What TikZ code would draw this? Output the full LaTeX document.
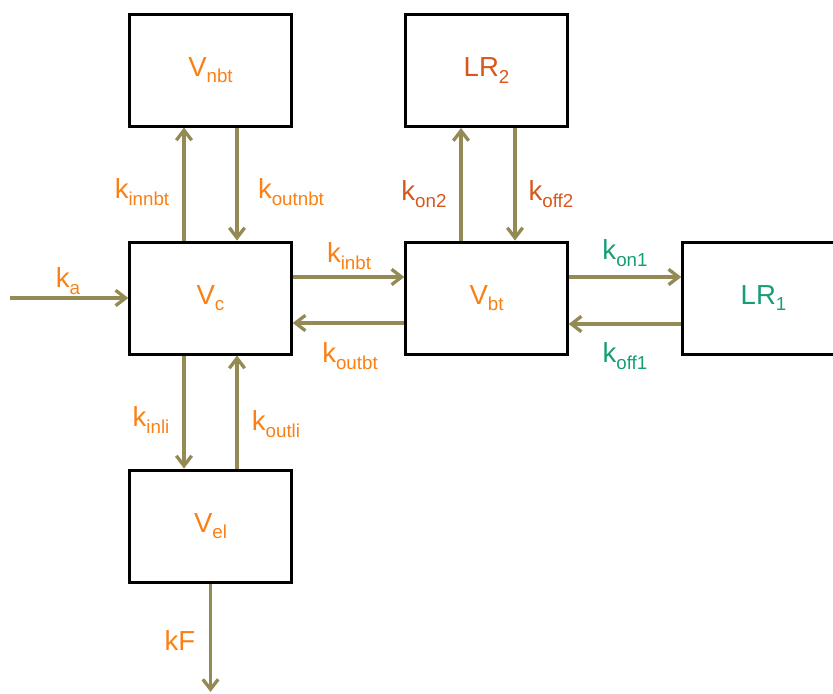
\documentclass[tikz,border=0pt]{standalone}
\usepackage{fontspec}
\setmainfont{Liberation Sans}
\usepackage{tikz}
\usetikzlibrary{arrows.meta}
\usetikzlibrary{calc}
\usetikzlibrary{positioning}

\definecolor{pkorange}{RGB}{250,128,20}
\definecolor{pkred}{RGB}{214,88,28}
\definecolor{pkgreen}{RGB}{20,158,118}
\definecolor{pkolive}{RGB}{148,138,84}

\newcommand{\lowidx}[1]{\raisebox{-0.45ex}{\fontsize{16}{16}\selectfont #1}}

\begin{document}
\begin{tikzpicture}[
  x=0.03cm, y=-0.03cm,
  every node/.style={font=\fontsize{23.5}{27}\selectfont},
  comp/.style = {draw=black,line width=0.09cm,minimum width=4.84cm,minimum height=3.36cm,inner sep=0pt,text=pkorange},
  flow/.style = {draw=pkolive,line width=0.1cm,-{Straight Barb[length=0.3cm,width=0.46cm]}},
  rate/.style = {text=pkorange,inner sep=0pt}
  ]
	\clip (0,0) rectangle (833,693);

	% compartments
	\node[comp] (Vnbt) at (210.5,70) {V\lowidx{nbt}};
	\node[comp] (Vc) at (210.5,298) {V\lowidx{c}};
	\node[comp] (Vel) at (210.5,526) {V\lowidx{el}};
	\node[comp] (Vbt) at (486.5,298) {V\lowidx{bt}};
	\node[comp,text=pkred] (LR2) at (486.5,70.5) {LR\lowidx{2}};
	\node[comp,text=pkgreen] (LR1) at (763.5,298) {LR\lowidx{1}};

	\coordinate (kain) at (10,298);
	\coordinate (kFout) at (210.5,692);

	% transfers
	\draw[flow] (kain) -- (Vc.west);
	\draw[flow] ($(Vc.north)+(-26.5,0)$) -- ($(Vnbt.south)+(-26.5,0)$);
	\draw[flow] ($(Vnbt.south)+(26.5,0)$) -- ($(Vc.north)+(26.5,0)$);
	\draw[flow] ($(Vc.east)+(0,-21)$) -- ($(Vbt.west)+(0,-21)$);
	\draw[flow] ($(Vbt.west)+(0,25)$) -- ($(Vc.east)+(0,25)$);
	\draw[flow] ($(Vbt.north)+(-25.5,0)$) -- ($(LR2.south)+(-25.5,0)$);
	\draw[flow] ($(LR2.south)+(28.5,0)$) -- ($(Vbt.north)+(28.5,0)$);
	\draw[flow] ($(Vbt.east)+(0,-21)$) -- ($(LR1.west)+(0,-21)$);
	\draw[flow] ($(LR1.west)+(0,26)$) -- ($(Vbt.east)+(0,26)$);
	\draw[flow] ($(Vc.south)+(-26.5,0)$) -- ($(Vel.north)+(-26.5,0)$);
	\draw[flow] ($(Vel.north)+(26.5,0)$) -- ($(Vc.south)+(26.5,0)$);
	\draw[flow] (Vel.south) -- (kFout);

	% rate constants
	\node[rate] (ka) at (68,281) {k\lowidx{a}};
	\node[rate] (kinnbt) at (142,192) {k\lowidx{innbt}};
	\node[rate] (koutnbt) at (291,192) {k\lowidx{outnbt}};
	\node[rate] (kinbt) at (349,256) {k\lowidx{inbt}};
	\node[rate] (koutbt) at (350,356) {k\lowidx{outbt}};
	\node[rate,text=pkred] (kon2) at (424,194) {k\lowidx{on2}};
	\node[rate,text=pkred] (koff2) at (551,194) {k\lowidx{off2}};
	\node[rate,text=pkgreen] (kon1) at (625,253) {k\lowidx{on1}};
	\node[rate,text=pkgreen] (koff1) at (625,356) {k\lowidx{off1}};
	\node[rate] (kinli) at (151,420) {k\lowidx{inli}};
	\node[rate] (koutli) at (276,424) {k\lowidx{outli}};
	\node[rate] (kF) at (180,641) {kF};

\end{tikzpicture}
\end{document}
